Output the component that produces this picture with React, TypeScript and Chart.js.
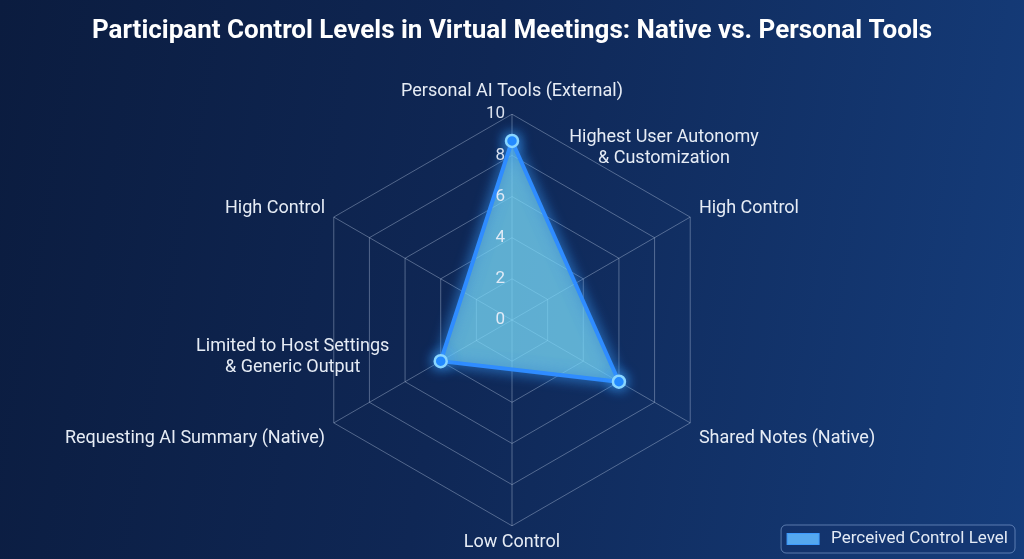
import React, { useEffect, useRef } from "react";
import { Chart, registerables } from "chart.js";

Chart.register(...registerables);

const chartTitle =
  "Participant Control Levels in Virtual Meetings: Native vs. Personal Tools";
const axisLabels = [
  "Personal AI Tools (External)",
  "High Control",
  "Shared Notes (Native)",
  "Low Control",
  "Requesting AI Summary (Native)",
  "High Control",
];
const controlLevels = [8.7, null, 6, null, 4, null];
const tickValues = [0, 2, 4, 6, 8, 10];
const seriesLabel = "Perceived Control Level";
const noteTexts = [
  ["Highest User Autonomy", "& Customization"],
  ["Limited to Host Settings", "& Generic Output"],
];
const notePoints = [0, 4];

const textFont = "Roboto, 'Open Sans', sans-serif";
const gridColor = "rgba(195, 210, 235, 0.38)";

// glow round the polygon and its points
const glowPlugin = {
  id: "glow",
  beforeDatasetsDraw(chart: any) {
    const ctx = chart.ctx;
    ctx.save();
    ctx.shadowColor = "rgba(60, 160, 255, 0.9)";
    ctx.shadowBlur = 14;
  },
  afterDatasetsDraw(chart: any) {
    chart.ctx.restore();
  },
};

// tick numbers sit left of the vertical axis, 0 included
const tickLabelPlugin = {
  id: "tickLabels",
  afterDatasetsDraw(chart: any) {
    const ctx = chart.ctx;
    const scale = chart.scales.r;
    ctx.save();
    ctx.font = `17px ${textFont}`;
    ctx.fillStyle = "rgba(235, 240, 250, 0.92)";
    ctx.textAlign = "right";
    ctx.textBaseline = "middle";
    tickValues.forEach((v) => {
      const d = scale.getDistanceFromCenterForValue(v);
      ctx.fillText(String(v), scale.xCenter - 7, scale.yCenter - d);
    });
    ctx.restore();
  },
};

const notesPlugin = {
  id: "notes",
  afterDraw(chart: any) {
    const ctx = chart.ctx;
    const meta = chart.getDatasetMeta(0);
    const offsets = [
      [152, -3],
      [-148, -15],
    ];
    ctx.save();
    ctx.font = `18px ${textFont}`;
    ctx.fillStyle = "#e6ecf5";
    ctx.textAlign = "center";
    ctx.textBaseline = "middle";
    notePoints.forEach((idx, i) => {
      const pt = meta.data[idx];
      if (!pt) return;
      noteTexts[i].forEach((line, j) => {
        ctx.fillText(line, pt.x + offsets[i][0], pt.y + offsets[i][1] + j * 21);
      });
    });
    ctx.restore();
  },
};

const boxLegendPlugin = {
  id: "boxLegend",
  afterDraw(chart: any) {
    const ctx = chart.ctx;
    const ds = chart.data.datasets[0];
    ctx.save();
    ctx.font = `17px ${textFont}`;
    const tw = ctx.measureText(ds.label).width;
    const right = chart.width - 9;
    const bottom = chart.height - 6;
    const top = bottom - 28;
    const textX = right - 7 - tw;
    const swL = textX - 44;
    const left = swL - 6;
    const midY = (top + bottom) / 2;

    ctx.beginPath();
    ctx.roundRect(left, top, right - left, bottom - top, 5);
    ctx.fillStyle = "rgba(20, 50, 105, 0.35)";
    ctx.fill();
    ctx.strokeStyle = "rgba(150, 180, 225, 0.55)";
    ctx.lineWidth = 1;
    ctx.stroke();

    ctx.fillStyle = "rgba(90, 175, 245, 0.95)";
    ctx.fillRect(swL, midY - 5.5, 32, 11);
    ctx.strokeStyle = "#3d9bff";
    ctx.strokeRect(swL, midY - 5.5, 32, 11);

    ctx.fillStyle = "#e3eaf5";
    ctx.textAlign = "left";
    ctx.textBaseline = "middle";
    ctx.fillText(ds.label, textX, midY);
    ctx.restore();
  },
};

export default function App() {
  const canvasRef = useRef<HTMLCanvasElement | null>(null);
  const chartRef = useRef<Chart | null>(null);

  useEffect(() => {
    if (!canvasRef.current) return;
    const ctx = canvasRef.current.getContext("2d");
    if (!ctx) return;
    if (chartRef.current) chartRef.current.destroy();

    const labelPadding = [12, 10, 10, 6, 10, 10];

    chartRef.current = new Chart(ctx, {
      type: "radar",
      data: {
        labels: axisLabels,
        datasets: [
          {
            label: seriesLabel,
            data: controlLevels,
            spanGaps: true,
            fill: true,
            backgroundColor: "rgba(150, 245, 250, 0.52)",
            borderColor: "#2f8cff",
            borderWidth: 4,
            pointRadius: 6,
            pointBackgroundColor: "#1f86ff",
            pointBorderColor: "#8ad6ff",
            pointBorderWidth: 2.5,
          },
        ],
      },
      options: {
        responsive: true,
        maintainAspectRatio: false,
        animation: false,
        layout: { padding: { top: 0, bottom: 1, left: 0, right: 0 } },
        plugins: {
          legend: { display: false },
          tooltip: { enabled: false },
          title: {
            display: true,
            text: chartTitle,
            color: "#ffffff",
            font: {
              family: "Roboto, sans-serif",
              size: 26,
              weight: "bold",
            },
            padding: { top: 16, bottom: 30.4 },
          },
        },
        scales: {
          r: {
            min: 0,
            max: 10,
            ticks: { stepSize: 2, display: false },
            grid: { color: gridColor, lineWidth: 1 },
            angleLines: { color: gridColor, lineWidth: 1 },
            pointLabels: {
              color: "#e6ecf5",
              // the two upper side labels sit level with their vertex
              font: (c: any) => ({
                family: textFont,
                size: 18,
                lineHeight: c.index === 1 || c.index === 5 ? 0.35 : 1.2,
              }),
              padding: (c: any) => labelPadding[c.index],
            },
          },
        },
      } as any,
      plugins: [glowPlugin, tickLabelPlugin, notesPlugin, boxLegendPlugin],
    });

    return () => {
      if (chartRef.current) {
        chartRef.current.destroy();
        chartRef.current = null;
      }
    };
  }, []);

  return (
    <div
      style={{
        position: "fixed",
        inset: 0,
        background:
          "linear-gradient(100deg, #0b1c3f 0%, #0f2755 45%, #153d7c 100%)",
      }}
    >
      <canvas ref={canvasRef} />
    </div>
  );
}
